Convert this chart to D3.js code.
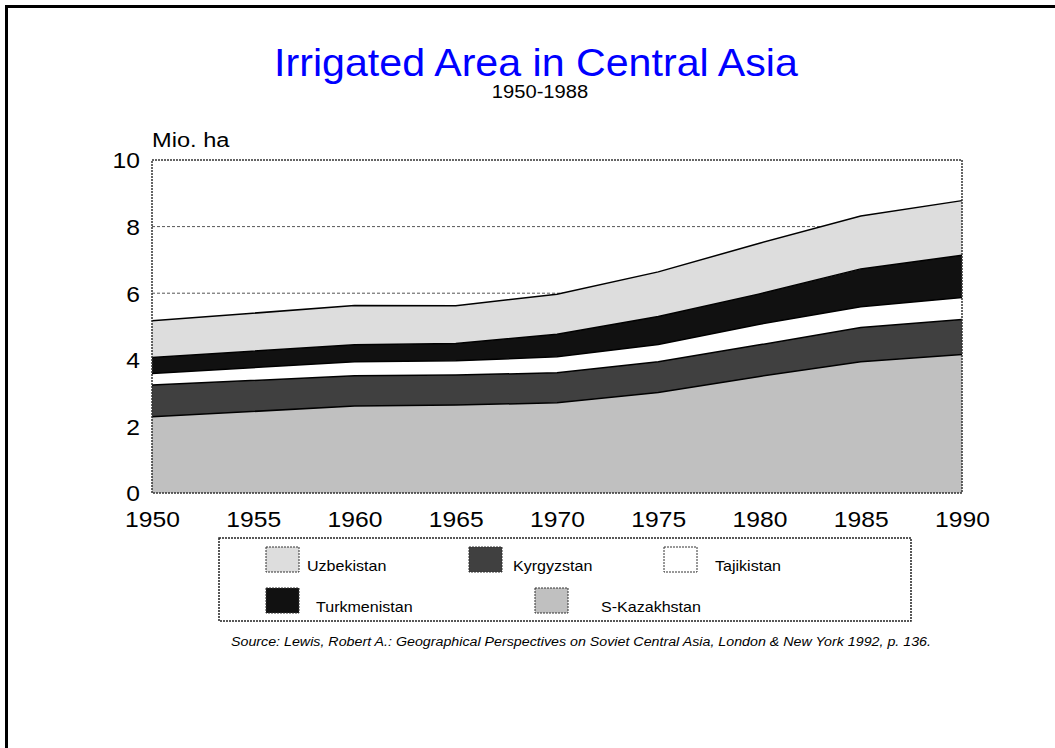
<!DOCTYPE html>
<html>
<head>
<meta charset="utf-8">
<script src="https://cdn.jsdelivr.net/npm/d3@7"></script>
<style>
  body { margin: 0; background: #fff; }
  text { font-family: Arial, "Liberation Sans", sans-serif; }
</style>
</head>
<body>
<script>
// irrigated area, Mio. ha
var years = [1950, 1960, 1965, 1970, 1975, 1980, 1985, 1990];
var kazakhstan   = [2.29, 2.61, 2.64, 2.71, 3.02, 3.50, 3.94, 4.16];
var kyrgyzstan   = [0.95, 0.91, 0.90, 0.90, 0.92, 0.95, 1.03, 1.05];
var tajikistan   = [0.35, 0.42, 0.43, 0.48, 0.52, 0.62, 0.62, 0.66];
var turkmenistan = [0.48, 0.51, 0.52, 0.68, 0.84, 0.91, 1.14, 1.27];
var uzbekistan   = [1.10, 1.18, 1.13, 1.20, 1.34, 1.52, 1.59, 1.64];

var yTicks = [0, 2, 4, 6, 8, 10];
var xTicks = [1950, 1955, 1960, 1965, 1970, 1975, 1980, 1985, 1990];

// stacking order, bottom to top
var keys = ["S-Kazakhstan", "Kyrgyzstan", "Tajikistan", "Turkmenistan", "Uzbekistan"];
var series = [kazakhstan, kyrgyzstan, tajikistan, turkmenistan, uzbekistan];
var fills = {
  "S-Kazakhstan": "#c0c0c0",
  "Kyrgyzstan": "#404040",
  "Tajikistan": "#ffffff",
  "Turkmenistan": "#111111",
  "Uzbekistan": "#dddddd"
};

var width = 1055,
    height = 748,
    plotLeft = 152, plotRight = 962,
    plotTop = 160, plotBottom = 493;

var rows = years.map(function(yr, i) {
  var r = { year: yr };
  keys.forEach(function(k, j) { r[k] = series[j][i]; });
  return r;
});

var x = d3.scaleLinear().domain([1950, 1990]).range([plotLeft, plotRight]);
var y = d3.scaleLinear().domain([0, 10]).range([plotBottom, plotTop]);

var svg = d3.select("body").append("svg")
    .attr("width", width)
    .attr("height", height);

// stretch a text horizontally by k (the original text is a bit wide)
function stretch(sel, k) {
  sel.each(function() {
    var w = this.getComputedTextLength();
    d3.select(this).attr("textLength", w * k).attr("lengthAdjust", "spacingAndGlyphs");
  });
}

// page frame
svg.append("rect")
    .attr("x", 6.5).attr("y", 6.5)
    .attr("width", 1200).attr("height", 900)
    .attr("fill", "none").attr("stroke", "#000").attr("stroke-width", 3);

// titles
svg.append("text")
    .attr("x", 536).attr("y", 76)
    .attr("text-anchor", "middle")
    .attr("fill", "#0000ff")
    .style("font-size", "39px")
    .text("Irrigated Area in Central Asia")
    .call(stretch, 1.055);

svg.append("text")
    .attr("x", 540).attr("y", 98)
    .attr("text-anchor", "middle")
    .style("font-size", "18px")
    .text("1950-1988")
    .call(stretch, 1.12);

svg.append("text")
    .attr("x", 152).attr("y", 147)
    .style("font-size", "20px")
    .text("Mio. ha")
    .call(stretch, 1.18);

// grid lines
svg.append("g").selectAll("line")
    .data(yTicks.filter(function(d) { return d > 0 && d < 10; }))
  .enter().append("line")
    .attr("x1", plotLeft).attr("x2", plotRight)
    .attr("y1", function(d) { return y(d); })
    .attr("y2", function(d) { return y(d); })
    .attr("stroke", "#555")
    .attr("stroke-width", 1)
    .attr("stroke-dasharray", "3,2");

var stack = d3.stack().keys(keys);
var layers = stack(rows);

var area = d3.area()
    .x(function(d) { return x(d.data.year); })
    .y0(function(d) { return y(d[0]); })
    .y1(function(d) { return y(d[1]); });

var topLine = d3.line()
    .x(function(d) { return x(d.data.year); })
    .y(function(d) { return y(d[1]); });

svg.append("g").selectAll("path")
    .data(layers)
  .enter().append("path")
    .attr("d", area)
    .attr("fill", function(d) { return fills[d.key]; });

svg.append("g").selectAll("path")
    .data(layers)
  .enter().append("path")
    .attr("d", topLine)
    .attr("fill", "none")
    .attr("stroke", "#000")
    .attr("stroke-width", 1.5);

// plot frame
svg.append("rect")
    .attr("x", plotLeft).attr("y", plotTop)
    .attr("width", plotRight - plotLeft).attr("height", plotBottom - plotTop)
    .attr("fill", "none")
    .attr("stroke", "#333")
    .attr("stroke-width", 1.5)
    .attr("stroke-dasharray", "2,1");

// axes
var yAxis = svg.append("g")
    .attr("transform", "translate(" + (plotLeft - 12) + ",0)")
    .call(d3.axisLeft(y).tickValues(yTicks).tickSize(0).tickPadding(0));
yAxis.select(".domain").remove();
yAxis.selectAll("text")
    .attr("fill", "#000")
    .style("font-size", "22px")
    .attr("dy", "0.36em")
    .call(stretch, 1.12);

var xAxis = svg.append("g")
    .attr("transform", "translate(0," + (plotBottom + 34) + ")")
    .call(d3.axisBottom(x).tickValues(xTicks).tickFormat(d3.format("d")).tickSize(0).tickPadding(0));
xAxis.select(".domain").remove();
xAxis.selectAll("text")
    .attr("fill", "#000")
    .attr("dy", 0)
    .style("font-size", "22px")
    .call(stretch, 1.12);

// legend
var legendLayout = [
  { key: "Uzbekistan",   sx: 266, sy: 547, tx: 307, ty: 571 },
  { key: "Kyrgyzstan",   sx: 469, sy: 547, tx: 513, ty: 571 },
  { key: "Tajikistan",   sx: 664, sy: 547, tx: 715, ty: 571 },
  { key: "Turkmenistan", sx: 266, sy: 588, tx: 316, ty: 612 },
  { key: "S-Kazakhstan", sx: 535, sy: 588, tx: 601, ty: 612 }
];

svg.append("rect")
    .attr("x", 219).attr("y", 538)
    .attr("width", 692).attr("height", 83)
    .attr("fill", "none")
    .attr("stroke", "#222")
    .attr("stroke-width", 1.5)
    .attr("stroke-dasharray", "2,1");

var lg = svg.append("g").selectAll("g")
    .data(legendLayout)
  .enter().append("g");

lg.append("rect")
    .attr("x", function(d) { return d.sx; })
    .attr("y", function(d) { return d.sy; })
    .attr("width", 33).attr("height", 25)
    .attr("fill", function(d) { return fills[d.key]; })
    .attr("stroke", "#333")
    .attr("stroke-width", 1)
    .attr("stroke-dasharray", "2,1");

lg.append("text")
    .attr("x", function(d) { return d.tx; })
    .attr("y", function(d) { return d.ty; })
    .style("font-size", "15px")
    .text(function(d) { return d.key; })
    .call(stretch, 1.07);

svg.append("text")
    .attr("x", 581).attr("y", 646)
    .attr("text-anchor", "middle")
    .style("font-size", "12px")
    .style("font-style", "italic")
    .attr("textLength", 700)
    .attr("lengthAdjust", "spacingAndGlyphs")
    .text("Source: Lewis, Robert A.: Geographical Perspectives on Soviet Central Asia, London & New York 1992, p. 136.");
</script>
</body>
</html>
